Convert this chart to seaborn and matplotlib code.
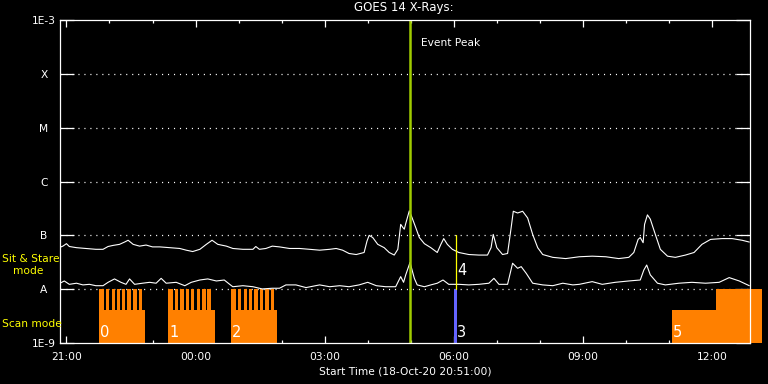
import matplotlib
matplotlib.use("Agg")
import matplotlib.pyplot as plt
import seaborn as sns
import pandas as pd
from matplotlib.ticker import MultipleLocator, NullLocator

# ---- data (time in minutes after 21:00 on 18-Oct-20, flux in W/m^2) ----
long_min = [-9, -5, 0, 4, 14, 27, 41, 51, 58, 65, 74, 81, 86, 93, 102, 111, 120, 130,
            144, 158, 167, 176, 186, 195, 203, 211, 223, 232, 246, 260, 264, 269, 278,
            287, 297, 311, 325, 339, 353, 367, 376, 385, 394, 404, 415, 419, 422, 427,
            434, 443, 450, 457, 462, 466, 469, 471, 473, 478, 482, 487, 492, 499, 508,
            517, 522, 526, 531, 538, 547, 561, 575, 587, 592, 595, 600, 608, 615, 620,
            623, 629, 636, 643, 650, 657, 664, 678, 696, 715, 733, 752, 770, 784, 791,
            797, 800, 804, 806, 810, 814, 821, 828, 838, 849, 863, 875, 886, 898, 914,
            928, 942, 952]
long_flux = [6.0e-8, 6.3e-8, 7.0e-8, 6.2e-8, 5.9e-8, 5.7e-8, 5.5e-8, 5.5e-8, 6.2e-8,
             6.5e-8, 6.8e-8, 7.5e-8, 8.1e-8, 6.8e-8, 6.3e-8, 6.6e-8, 6.1e-8, 6.1e-8,
             5.9e-8, 5.7e-8, 5.3e-8, 5.0e-8, 5.5e-8, 6.8e-8, 8.1e-8, 6.8e-8, 6.3e-8,
             5.7e-8, 5.5e-8, 5.5e-8, 6.2e-8, 5.5e-8, 5.7e-8, 6.3e-8, 6.1e-8, 5.7e-8,
             5.7e-8, 5.5e-8, 5.3e-8, 5.5e-8, 5.7e-8, 5.3e-8, 4.6e-8, 4.4e-8, 4.8e-8,
             7.8e-8, 1.0e-7, 9.1e-8, 6.8e-8, 5.9e-8, 4.8e-8, 4.3e-8, 5.5e-8, 1.6e-7,
             1.4e-7, 1.3e-7, 1.65e-7, 2.85e-7, 2.1e-7, 1.39e-7, 9.1e-8, 7.0e-8, 5.9e-8,
             4.8e-8, 6.8e-8, 8.7e-8, 6.8e-8, 5.5e-8, 4.8e-8, 4.4e-8, 4.3e-8, 4.3e-8,
             5.9e-8, 1.04e-7, 5.9e-8, 4.4e-8, 4.6e-8, 1.39e-7, 2.8e-7, 2.6e-7, 2.8e-7,
             2.1e-7, 1.04e-7, 5.9e-8, 4.4e-8, 3.9e-8, 3.7e-8, 4.0e-8, 4.1e-8, 4.0e-8,
             3.7e-8, 3.9e-8, 4.8e-8, 8.4e-8, 9.1e-8, 7.3e-8, 1.6e-7, 2.4e-7, 2.0e-7,
             1.04e-7, 5.5e-8, 4.1e-8, 3.9e-8, 4.3e-8, 4.8e-8, 6.8e-8, 8.4e-8, 8.7e-8,
             8.7e-8, 8.1e-8, 7.5e-8]

short_min = [-9, -3, 4, 14, 23, 32, 41, 51, 58, 67, 76, 83, 88, 95, 106, 116, 125, 132,
             139, 153, 165, 174, 186, 197, 209, 220, 230, 232, 246, 260, 273, 287, 297,
             306, 320, 334, 353, 367, 381, 394, 408, 420, 432, 445, 459, 466, 470, 473,
             479, 485, 489, 499, 508, 517, 525, 533, 547, 561, 575, 589, 596, 603, 615,
             622, 629, 634, 641, 650, 664, 678, 692, 706, 715, 733, 747, 765, 784, 800,
             805, 809, 814, 824, 835, 854, 872, 891, 910, 924, 938, 952]
short_flux = [1.29e-8, 1.42e-8, 1.23e-8, 1.29e-8, 1.20e-8, 1.23e-8, 1.16e-8, 1.16e-8,
              1.34e-8, 1.55e-8, 1.34e-8, 1.23e-8, 1.55e-8, 1.23e-8, 1.29e-8, 1.34e-8,
              1.29e-8, 1.59e-8, 1.29e-8, 1.34e-8, 1.16e-8, 1.34e-8, 1.48e-8, 1.55e-8,
              1.42e-8, 1.48e-8, 1.16e-8, 1.11e-8, 1.16e-8, 1.11e-8, 1.01e-8, 1.04e-8,
              1.04e-8, 1.20e-8, 1.20e-8, 1.07e-8, 1.20e-8, 1.11e-8, 1.16e-8, 1.11e-8,
              1.20e-8, 1.34e-8, 1.16e-8, 1.11e-8, 1.11e-8, 1.71e-8, 1.34e-8, 1.84e-8,
              3.13e-8, 1.59e-8, 1.20e-8, 1.11e-8, 1.20e-8, 1.29e-8, 1.48e-8, 1.23e-8,
              1.23e-8, 1.20e-8, 1.23e-8, 1.29e-8, 1.59e-8, 1.23e-8, 1.23e-8, 3.03e-8,
              2.44e-8, 2.62e-8, 1.97e-8, 1.29e-8, 1.20e-8, 1.16e-8, 1.29e-8, 1.20e-8,
              1.23e-8, 1.38e-8, 1.23e-8, 1.34e-8, 1.42e-8, 1.48e-8, 2.27e-8, 2.81e-8,
              1.84e-8, 1.29e-8, 1.20e-8, 1.29e-8, 1.34e-8, 1.29e-8, 1.34e-8, 1.64e-8,
              1.42e-8, 1.16e-8]

# observing-mode blocks (start / end in minutes after 21:00, level on the flux scale)
mode_start = [46, 46, 55, 63, 70, 78, 85, 92.5, 100.5,
              142, 142, 151.5, 159, 166.5, 174, 181.5, 189, 196.5,
              230, 230, 239.5, 247, 254.5, 262, 269.5, 277, 284.5,
              844, 905.5]
mode_end = [110, 52, 60, 67, 75, 82, 90, 98, 105.5,
            206.5, 148, 156, 163.5, 171, 178.5, 186.5, 194.5, 201.5,
            293, 236, 244, 251.5, 259, 266.5, 274.5, 282.5, 289.5,
            905.5, 970]
mode_level = ([4.1e-9] + [1e-8] * 8 + [4.1e-9] + [1e-8] * 8 + [4.1e-9] + [1e-8] * 8
              + [4.1e-9, 1e-8])

iris_start = [540]
iris_end = [544]
iris_level = [1e-8]

block_labels = ["0", "1", "2", "3", "5"]
block_label_min = [47, 144, 231, 545, 845]

event_peak_min = 479
marker4_min = 543
marker4_low, marker4_high = 1e-8, 1e-7

ytick_vals = [1e-9, 1e-8, 1e-7, 1e-6, 1e-5, 1e-4, 1e-3]
ytick_labels = ["1E-9", "A", "B", "C", "M", "X", "1E-3"]
xtick_vals = [0, 180, 360, 540, 720, 900]
xtick_labels = ["21:00", "00:00", "03:00", "06:00", "09:00", "12:00"]

# ---- style ----
sns.set_style("dark", {"axes.facecolor": "black", "figure.facecolor": "black",
                       "axes.edgecolor": "white", "text.color": "white",
                       "xtick.color": "white", "ytick.color": "white",
                       "axes.labelcolor": "white"})
plt.rcParams["font.family"] = ["DejaVu Sans"]
plt.rcParams["font.size"] = 7.5
plt.rcParams["lines.scale_dashes"] = False

fig = plt.figure(figsize=(7.68, 3.84), dpi=100, facecolor="black")
ax = fig.add_axes([60 / 768, 41 / 384, 690 / 768, 323 / 384])
ax.set_facecolor("black")
ax.set_yscale("log")
ax.set_ylim(1e-9, 1e-3)
ax.set_xlim(-9, 953)

# mode bars
ax.bar(mode_start, [l - 1e-9 for l in mode_level],
       width=[e - s for s, e in zip(mode_start, mode_end)], bottom=1e-9,
       align="edge", color="#ff8000", linewidth=0, zorder=2, clip_on=False)
ax.bar(iris_start, [l - 1e-9 for l in iris_level],
       width=[e - s for s, e in zip(iris_start, iris_end)], bottom=1e-9,
       align="edge", color="#6464ff", linewidth=0, zorder=2)

# dotted class lines
for v in ytick_vals[1:-1]:
    ax.axhline(v, color="white", lw=0.9, ls=(0, (0.8, 3.5)), zorder=1)

# GOES curves
df_long = pd.DataFrame({"t": long_min, "flux": long_flux})
df_short = pd.DataFrame({"t": short_min, "flux": short_flux})
sns.lineplot(data=df_long, x="t", y="flux", ax=ax, color="white", lw=0.8, zorder=3)
sns.lineplot(data=df_short, x="t", y="flux", ax=ax, color="white", lw=0.8, zorder=3)

# markers
ax.axvline(event_peak_min, color="#a0cc00", lw=1.8, zorder=4)
ax.text(494, 3.7e-4, "Event Peak", color="white", fontsize=7.7, va="center", ha="left")
ax.plot([marker4_min, marker4_min], [marker4_low, marker4_high], color="yellow",
        lw=0.9, zorder=4)
ax.text(marker4_min + 1.5, 2.22e-8, "4", color="white", fontsize=10.5, va="center",
        ha="left", zorder=5)
for lab, m in zip(block_labels, block_label_min):
    ax.text(m, 1.6e-9, lab, color="white", fontsize=10.5, va="center", ha="left", zorder=5)

# axes formatting
ax.set_yticks(ytick_vals)
ax.set_yticklabels(ytick_labels)
ax.yaxis.set_minor_locator(NullLocator())
for t in ax.get_yticklabels():
    t.set_horizontalalignment("center")
ax.tick_params(axis="y", which="major", direction="in", length=10, width=0.9,
               left=True, right=True, pad=11.5, labelsize=7.7)
ax.set_xticks(xtick_vals)
ax.set_xticklabels(xtick_labels)
ax.xaxis.set_minor_locator(MultipleLocator(60))
ax.tick_params(axis="x", which="major", direction="in", length=5, width=0.9,
               top=True, bottom=True, pad=6.5, labelsize=7.7)
ax.tick_params(axis="x", which="minor", direction="in", length=2.5, width=0.9,
               top=True, bottom=True)
for s in ax.spines.values():
    s.set_color("white")
    s.set_linewidth(0.9)
    s.set_zorder(6)
ax.grid(False)
ax.set_ylabel("")
ax.set_xlabel("Start Time (18-Oct-20 20:51:00)", fontsize=7.7, labelpad=3.5)

fig.text(404 / 768, 1 - 8 / 384, "GOES 14 X-Rays:", color="white", fontsize=8.5,
         ha="center", va="center")
fig.text(2 / 768, 1 - 259 / 384, "Sit & Stare", color="yellow", fontsize=7.7,
         ha="left", va="center", zorder=7)
fig.text(12.5 / 768, 1 - 271 / 384, "mode", color="yellow", fontsize=7.7,
         ha="left", va="center", zorder=7)
fig.text(2 / 768, 1 - 324 / 384, "Scan mode", color="yellow", fontsize=7.7,
         ha="left", va="center", zorder=7)

fig.savefig("out.png", dpi=100, facecolor="black")
